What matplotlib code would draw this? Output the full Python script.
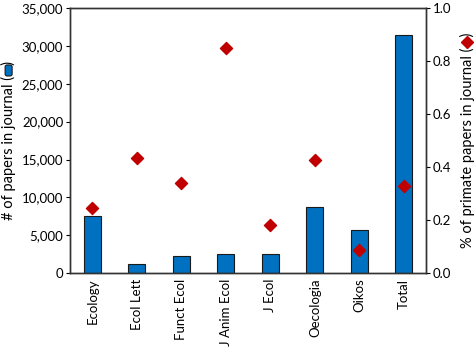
import numpy as np
import matplotlib.pyplot as plt
from matplotlib.ticker import FuncFormatter
from matplotlib.patches import FancyBboxPatch
from matplotlib.lines import Line2D
from matplotlib.transforms import IdentityTransform

plt.rcParams['font.family'] = ['Lato', 'DejaVu Sans']

journals = ['Ecology', 'Ecol Lett', 'Funct Ecol', 'J Anim Ecol', 'J Ecol',
            'Oecologia', 'Oikos', 'Total']
n_papers = [7600, 1200, 2200, 2500, 2500, 8700, 5700, 31500]
pct_primate = [0.245, 0.435, 0.34, 0.85, 0.18, 0.428, 0.088, 0.328]

bar_color = '#0070C0'
dot_color = '#C00000'
lab_size = 10.5

fig = plt.figure(figsize=(4.74, 3.51), dpi=100)
ax = fig.add_axes([0.148, 0.222, 0.751, 0.755])
x = np.arange(len(journals))

ax.bar(x, n_papers, width=0.38, color=bar_color, edgecolor='#1a1a1a', linewidth=0.8, zorder=2)
ax.set_xlim(-0.5, len(journals) - 0.5)
ax.set_ylim(0, 35000)
ax.set_yticks(np.arange(0, 35001, 5000))
ax.yaxis.set_major_formatter(FuncFormatter(lambda v, p: f'{int(v):,}'))
ax.set_xticks(x, journals, rotation=90)
ax.tick_params(axis='x', length=0, labelsize=9.5, pad=4)
ax.tick_params(axis='y', length=3, labelsize=9.5, pad=2)
left_pre = '# of papers in journal ('
ax.set_ylabel(left_pre + '\u2003)', fontsize=lab_size, labelpad=4)

ax2 = ax.twinx()
ax2.scatter(x, pct_primate, marker='D', s=38, color=dot_color, zorder=3)
ax2.set_ylim(0, 1.0)
ax2.set_yticks(np.arange(0, 1.01, 0.2))
ax2.yaxis.set_major_formatter(FuncFormatter(lambda v, p: f'{v:.1f}'))
ax2.tick_params(axis='y', length=3, labelsize=9.5, pad=2)
right_pre = '% of primate papers in journal ('
ax2.set_ylabel(right_pre + '\u2003)', fontsize=lab_size, labelpad=6)

for a in (ax, ax2):
    for s in a.spines.values():
        s.set_color('#333333')
        s.set_linewidth(1.0)

# legend icons inside the axis labels
fig.canvas.draw()
r = fig.canvas.get_renderer()


def text_width(s):
    t = fig.text(0, 0, s, fontsize=lab_size)
    w = t.get_window_extent(r).width
    t.remove()
    return w


def icon_pos(label, pre):
    bb = label.get_window_extent(r)
    w_pre = text_width(pre)
    w_gap = text_width(pre + '\u2003') - w_pre
    return (bb.x0 + bb.x1) / 2, bb.y0 + w_pre + w_gap / 2


cx, cy = icon_pos(ax.yaxis.label, left_pre)
fig.add_artist(FancyBboxPatch((cx - 3.5, cy - 5.5), 7, 11, boxstyle='round,pad=0,rounding_size=2',
                              facecolor=bar_color, edgecolor='#1a1a1a', linewidth=0.8,
                              transform=IdentityTransform()))
cx, cy = icon_pos(ax2.yaxis.label, right_pre)
fig.add_artist(Line2D([cx], [cy], marker='D', markersize=6, color=dot_color, linestyle='none',
                      transform=IdentityTransform()))

fig.savefig('out.png', dpi=100)
